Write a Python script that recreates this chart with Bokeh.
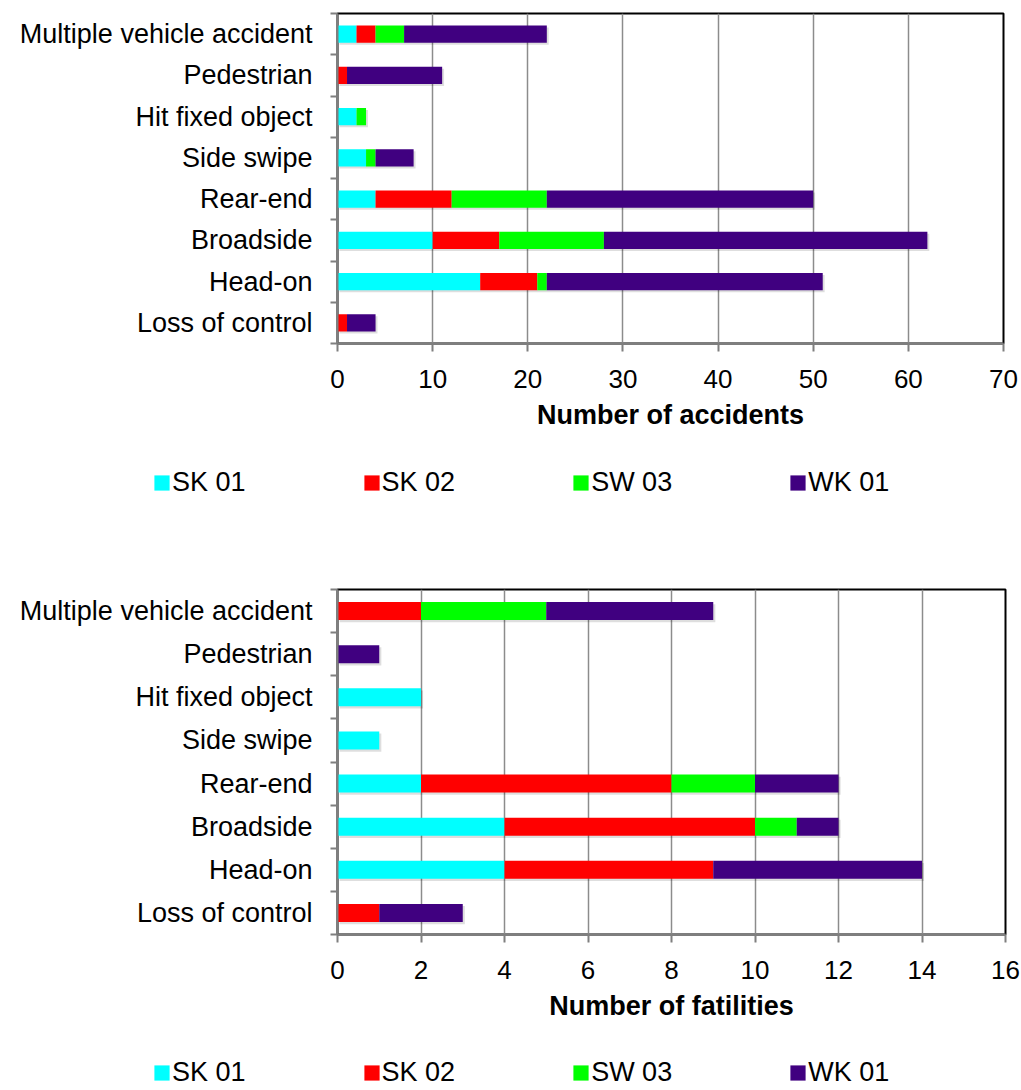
from bokeh.plotting import figure
from bokeh.models import ColumnDataSource, FixedTicker, Range1d, Legend, LegendItem
from bokeh.layouts import column
from bokeh.transform import dodge
from bokeh.embed import file_html
from bokeh.resources import INLINE

categories = ["Loss of control", "Head-on", "Broadside", "Rear-end",
              "Side swipe", "Hit fixed object", "Pedestrian", "Multiple vehicle accident"]
series_names = ["SK 01", "SK 02", "SW 03", "WK 01"]
colors = ["#00FFFF", "#FF0000", "#00FF00", "#400080"]

acc_SK01 = [0, 15, 10, 4, 3, 2, 0, 2]
acc_SK02 = [1, 6, 7, 8, 0, 0, 1, 2]
acc_SW03 = [0, 1, 11, 10, 1, 1, 0, 3]
acc_WK01 = [3, 29, 34, 28, 4, 0, 10, 15]

fat_SK01 = [0, 4, 4, 2, 1, 2, 0, 0]
fat_SK02 = [1, 5, 6, 6, 0, 0, 0, 2]
fat_SW03 = [0, 0, 1, 2, 0, 0, 0, 3]
fat_WK01 = [2, 5, 1, 2, 0, 0, 1, 4]

acc_ticks = [0, 10, 20, 30, 40, 50, 60, 70]
fat_ticks = [0, 2, 4, 6, 8, 10, 12, 14, 16]

FONT = "Liberation Sans"
WIDTH = 1021
KEYS = ["s0", "s1", "s2", "s3"]


def make_source(vals):
    ypos = list(range(1, len(categories) + 1))
    data = dict(y=ypos)
    for k, v in zip(KEYS, vals):
        data[k] = v
    data["total"] = [sum(t) for t in zip(*vals)]
    return ColumnDataSource(data), ypos


def make_chart(src, ypos, ticks, xlabel, frame_w, frame_h, top_b, bottom_b, right_b, shadow_dx):
    p = figure(frame_width=frame_w, frame_height=frame_h,
               x_range=Range1d(ticks[0], ticks[-1]), y_range=Range1d(0.5, len(categories) + 0.5),
               output_backend="svg", toolbar_location=None,
               min_border_left=337, min_border_right=right_b,
               min_border_top=top_b, min_border_bottom=bottom_b)
    p.background_fill_color = "white"
    p.border_fill_color = "white"
    p.outline_line_color = "black"
    p.outline_line_width = 2

    # soft shadow
    p.hbar(y=dodge("y", -0.05, range=p.y_range), left=shadow_dx,
           right=dodge("total", shadow_dx, range=p.x_range),
           height=0.42, source=src, fill_color="black", fill_alpha=0.13, line_color=None)

    p.hbar_stack(KEYS, y="y", height=0.42, color=colors, source=src, line_color=None)

    # x axis
    xt = FixedTicker(ticks=ticks)
    p.xaxis.ticker = xt
    p.xgrid.ticker = xt
    p.xgrid.grid_line_color = "#8c8c8c"
    p.xgrid.grid_line_width = 1.5
    p.ygrid.grid_line_color = None
    p.xaxis.axis_line_color = "#7f7f7f"
    p.xaxis.axis_line_width = 2
    p.xaxis.major_tick_line_color = "#7f7f7f"
    p.xaxis.major_tick_line_width = 2
    p.xaxis.major_tick_out = 8
    p.xaxis.major_tick_in = 0
    p.xaxis.minor_tick_line_color = None
    p.xaxis.major_label_text_font = FONT
    p.xaxis.major_label_text_font_size = "26px"
    p.xaxis.major_label_text_color = "black"
    p.xaxis.major_label_standoff = 18
    p.xaxis.axis_label = xlabel
    p.xaxis.axis_label_text_font = FONT
    p.xaxis.axis_label_text_font_size = "27px"
    p.xaxis.axis_label_text_font_style = "bold"
    p.xaxis.axis_label_text_color = "black"
    p.xaxis.axis_label_standoff = 9

    # y axis
    yt = FixedTicker(ticks=ypos, minor_ticks=[i + 0.5 for i in range(0, len(categories) + 1)])
    p.yaxis.ticker = yt
    p.yaxis.major_label_overrides = {i: c for i, c in zip(ypos, categories)}
    p.yaxis.axis_line_color = "#7f7f7f"
    p.yaxis.axis_line_width = 2
    p.yaxis.major_tick_out = 0
    p.yaxis.major_tick_in = 0
    p.yaxis.minor_tick_out = 7
    p.yaxis.minor_tick_in = 0
    p.yaxis.minor_tick_line_color = "#7f7f7f"
    p.yaxis.minor_tick_line_width = 2
    p.yaxis.major_label_text_font = FONT
    p.yaxis.major_label_text_font_size = "27px"
    p.yaxis.major_label_text_color = "black"
    p.yaxis.major_label_standoff = 18
    return p


def make_legend(src, height, leg_x, leg_y):
    lp = figure(frame_width=WIDTH, frame_height=height, output_backend="svg", toolbar_location=None,
                x_range=Range1d(0, 1), y_range=Range1d(0, 1),
                min_border_left=0, min_border_right=0, min_border_top=0, min_border_bottom=0,
                x_axis_location=None, y_axis_location=None)
    lp.outline_line_color = None
    lp.grid.grid_line_color = None
    lp.background_fill_color = "white"
    lp.border_fill_color = "white"
    rs = [lp.hbar(y="y", right=k, height=0.42, source=src, color=c, line_color=None, visible=False)
          for k, c in zip(KEYS, colors)]
    legend = Legend(items=[LegendItem(label=n, renderers=[r]) for n, r in zip(series_names, rs)],
                    orientation="horizontal", location=(leg_x, leg_y),
                    label_text_font=FONT, label_text_font_size="27px", label_text_color="black",
                    glyph_width=19, glyph_height=19, label_standoff=1, spacing=116,
                    inactive_fill_alpha=0,
                    border_line_color=None, background_fill_alpha=0, padding=0, margin=0)
    lp.add_layout(legend, "center")
    return lp


src1, ypos = make_source([acc_SK01, acc_SK02, acc_SW03, acc_WK01])
src2, _ = make_source([fat_SK01, fat_SK02, fat_SW03, fat_WK01])

p1 = make_chart(src1, ypos, acc_ticks, "Number of accidents", 666, 330, 13, 112, 18, 0.2)
leg1 = make_legend(src1, 56, 152, 13)
p2 = make_chart(src2, ypos, fat_ticks, "Number of fatilities", 668, 345, 78, 92, 16, 0.05)
leg2 = make_legend(src2, 64, 152, 2)

layout = column(p1, leg1, p2, leg2, spacing=0)
open("out.html", "w").write(file_html(layout, INLINE))
